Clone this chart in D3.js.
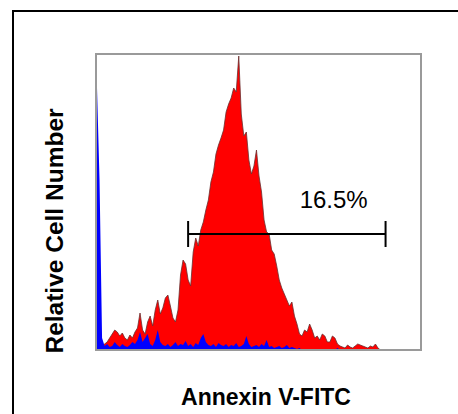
<!DOCTYPE html>
<head>
  <meta charset="utf-8">
  <title>Annexin V-FITC histogram</title>
<style>
html, body {
  margin: 0;
  padding: 0;
  background: #fff;
}
body {
  font-family: Arial, 'Liberation Sans', sans-serif;
}
.frame {
  fill: none;
  stroke: #000;
  stroke-width: 2px;
}
.plotbox {
  fill: none;
  stroke: #9a9a9a;
  stroke-width: 2px;
}
.red {
  fill: #ff0000;
  stroke: #6a3030;
  stroke-width: 0.8px;
}
.blue {
  fill: #0000ff;
}
.gate {
  stroke: #000;
  stroke-width: 2px;
}
</style>
</head>
<body>
<svg width="458" height="414"></svg>
<script src="https://d3js.org/d3.v7.min.js"></script>
<script>
var svg = d3.select("svg");

// channel bins (128 bins across the axis), counts
var nBins = 128;
var redCounts = [3,5,4,6,8,12,16,20,18,14,17,12,10,15,12,18,22,37,20,16,
  28,34,24,40,50,36,42,52,55,44,32,28,40,75,90,86,70,64,98,112,
  104,120,128,140,150,168,178,196,205,212,220,238,246,252,262,258,294,236,214,218,
  190,176,184,200,174,158,130,118,116,100,96,84,70,62,56,50,44,48,34,26,
  16,14,20,18,26,20,12,14,10,16,14,8,8,14,12,6,4,3,2,5,
  3,2,4,6,5,4,3,2,4,3,6,2,0];
var blueCounts = [262,170,12,4,6,3,4,8,5,3,6,4,3,5,8,6,10,18,8,12,
  16,6,4,10,20,8,5,4,6,3,5,8,4,6,5,9,4,6,3,7,
  5,12,16,8,5,4,6,3,7,5,4,6,3,5,4,7,3,4,6,14,
  6,3,4,5,3,6,4,10,3,4,2,3,4,2,3,5,2,3,2,1,
  2,0,0,0,0,0,0,0,0,0,0,0,0,0,0,2,0,0,0,0,0];
var gateRange = [36, 114];
var gateLabel = "16.5%";
var xTitle = "Annexin V-FITC";
var yTitle = "Relative Cell Number";

var margin = {left: 97, right: 37, top: 54, bottom: 64},
    width = 458 - margin.left - margin.right,
    height = 414 - margin.top - margin.bottom;

var x = d3.scaleLinear().domain([0, nBins]).range([0, width]);
var y = d3.scaleLinear().domain([0, 296]).range([height, 0]);

// outer frame (runs off the right and bottom edge)
svg.append("rect")
    .attr("class", "frame")
    .attr("x", 13).attr("y", 11)
    .attr("width", 480).attr("height", 440);

var g = svg.append("g")
    .attr("transform", "translate(" + margin.left + "," + margin.top + ")");

var area = d3.area()
    .x(function(d, i) { return x(i); })
    .y0(height)
    .y1(function(d) { return y(d); })
    .curve(d3.curveLinear);

g.append("path")
    .datum(redCounts)
    .attr("class", "red")
    .attr("d", area);

g.append("path")
    .datum(blueCounts)
    .attr("class", "blue")
    .attr("d", area);

g.append("rect")
    .attr("class", "plotbox")
    .attr("x", -1).attr("y", 0)
    .attr("width", width + 1).attr("height", height);

// marker gate
var gy = y(116);
g.append("line").attr("class", "gate")
    .attr("x1", x(gateRange[0])).attr("x2", x(gateRange[1]))
    .attr("y1", gy).attr("y2", gy);
gateRange.forEach(function(v) {
  g.append("line").attr("class", "gate")
      .attr("x1", x(v)).attr("x2", x(v))
      .attr("y1", gy - 13).attr("y2", gy + 13);
});
g.append("text")
    .attr("x", x(93.5))
    .attr("y", gy - 26)
    .attr("text-anchor", "middle")
    .style("font-size", "24px")
    .text(gateLabel);

svg.append("text")
    .attr("x", 266).attr("y", 405)
    .attr("text-anchor", "middle")
    .style("font-size", "23px")
    .style("font-weight", "bold")
    .text(xTitle);

svg.append("text")
    .attr("transform", "translate(63,231) rotate(-90)")
    .attr("text-anchor", "middle")
    .style("font-size", "24.5px")
    .style("font-weight", "bold")
    .text(yTitle);
</script>
</body>
